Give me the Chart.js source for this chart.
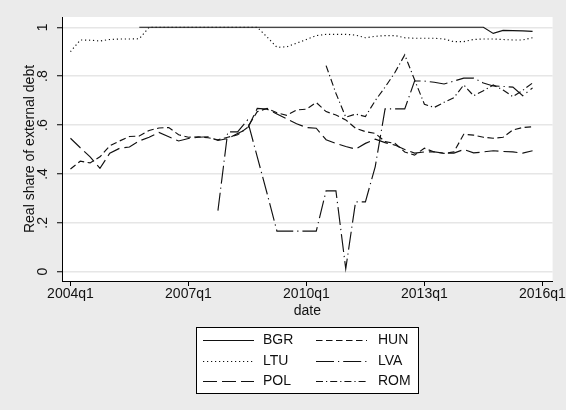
<!DOCTYPE html>
<html>
<head>
<meta charset="utf-8">
<script src="https://cdn.jsdelivr.net/npm/chart.js@4.4.1/dist/chart.umd.min.js"></script>
<style>
  html, body { margin: 0; padding: 0; background: #ebebeb; }
  canvas { display: block; }
</style>
</head>
<body>
<canvas id="chart" width="566" height="410"></canvas>
<script>
// Quarterly periods 2004q1 .. 2015q4 (index 0 .. 47)
const quarters = [];
for (let yr = 2004; yr <= 2015; yr++) for (let q = 1; q <= 4; q++) quarters.push(yr + 'q' + q);

const xTickPositions = [0, 12, 24, 36, 48];
const xTickLabels = ['2004q1', '2007q1', '2010q1', '2013q1', '2016q1'];
const yTickValues = [0, 0.2, 0.4, 0.6, 0.8, 1];
const yTickLabels = ['0', '.2', '.4', '.6', '.8', '1'];

const N = null;
// Real share of external debt by country
const BGR = [N, N, N, N, N, N, N, 1, 1, 1, 1, 1, 1, 1, 1, 1, 1, 1, 1, 1, 1, 1, 1, 1,
             1, 1, 1, 1, 1, 1, 1, 1, 1, 1, 1, 1, 1, 1, 1, 1, 1, 1, 1, .975, .987, .986, .985, .983];
const HUN = [.42, .452, .445, .47, .515, .535, .553, .555, .578, .588, .59, .56, .55, .552, .548, .54,
             .55, .56, .59, .655, .668, .65, .64, .662, .665, .692, .655, .641, .621, .587, .573, .566,
             .532, .525, .49, .477, .505, .49, .484, .49, .562, .559, .55, .546, .55, .58, .59, .593];
const LTU = [.90, .948, .947, .944, .95, .952, .952, .953, 1, 1, 1, 1, 1, 1, 1, 1,
             1, 1, 1, 1, .96, .918, .92, .935, .95, .966, .971, .971, .971, .968, .957, .963,
             .966, .966, .957, .955, .955, .955, .952, .941, .941, .95, .952, .952, .95, .948, .948, .957];
const LVA = [N, N, N, N, N, N, N, N, N, N, N, N, N, N, N, .25,
             .572, .572, .62, .47, .32, .166, .166, .166, .166, .166, .331, .331, .012, .286, .286, .43,
             .666, .666, .666, .78, .78, .775, .768, .78, .792, .792, .772, .76, .758, .755, .72, .752];
const POL = [.546, .507, .47, .423, .485, .505, .51, .535, .55, .57, .552, .535, .545, .55, .552, .537,
             .545, .565, .585, .668, .665, .645, .625, .605, .59, .587, .54, .525, .512, .502, .525, .542,
             .528, .518, .50, .485, .49, .49, .485, .485, .50, .486, .49, .495, .492, .49, .485, .495];
const ROM = [N, N, N, N, N, N, N, N, N, N, N, N, N, N, N, N,
             N, N, N, N, N, N, N, N, N, N, .843, .73, .632, .645, .635, .70,
             .755, .815, .887, .785, .685, .672, .693, .712, .764, .72, .74, .764, .743, .716, .742, .772];

const seriesNames = ['BGR', 'HUN', 'LTU', 'LVA', 'POL', 'ROM'];
const seriesValues = [BGR, HUN, LTU, LVA, POL, ROM];
const seriesDash = [[], [6.5, 3.5], [1.2, 2.8], [18, 4, 1.2, 4], [14, 5], [7, 3, 1.2, 3]];

const FONT = '"Liberation Sans", Arial, Helvetica, sans-serif';
const FONT_SIZE = 14;
const INK = '#111111';

// White plot region on the grey graph background
const plotBackground = {
  id: 'plotBackground',
  beforeDraw(chart) {
    const { ctx, chartArea: a } = chart;
    ctx.save();
    ctx.fillStyle = '#ebebeb';
    ctx.fillRect(0, 0, chart.width, chart.height);
    ctx.fillStyle = '#ffffff';
    ctx.fillRect(a.left, a.top, a.right - a.left, a.bottom - a.top);
    ctx.restore();
  }
};

// Vertical y tick labels, placed from the y scale
const verticalYLabels = {
  id: 'verticalYLabels',
  afterDraw(chart) {
    const s = chart.scales.y;
    const ctx = chart.ctx;
    ctx.save();
    ctx.fillStyle = INK;
    ctx.font = FONT_SIZE + 'px ' + FONT;
    ctx.textAlign = 'center';
    ctx.textBaseline = 'middle';
    yTickValues.forEach((v, k) => {
      ctx.save();
      ctx.translate(s.right - 18.5, s.getPixelForValue(v));
      ctx.rotate(-Math.PI / 2);
      ctx.fillText(yTickLabels[k], 0, 0);
      ctx.restore();
    });
    ctx.restore();
  }
};

// Boxed two-column legend below the plot
const boxedLegend = {
  id: 'boxedLegend',
  afterDraw(chart) {
    const ctx = chart.ctx;
    const box = { x: 196.5, y: 327.5, w: 222, h: 66 };
    ctx.save();
    ctx.fillStyle = '#ffffff';
    ctx.fillRect(box.x, box.y, box.w, box.h);
    ctx.strokeStyle = '#000000';
    ctx.lineWidth = 1;
    ctx.setLineDash([]);
    ctx.strokeRect(box.x, box.y, box.w, box.h);
    const colKey = [203, 316];
    const colText = [263, 378];
    const rowY = [340, 361, 381];
    ctx.font = FONT_SIZE + 'px ' + FONT;
    ctx.textBaseline = 'middle';
    ctx.textAlign = 'left';
    chart.data.datasets.forEach((ds, k) => {
      const col = k % 2, row = Math.floor(k / 2);
      const y = rowY[row] + 0.5;
      ctx.beginPath();
      ctx.setLineDash(ds.borderDash);
      ctx.strokeStyle = INK;
      ctx.lineWidth = ds.borderWidth;
      ctx.moveTo(colKey[col], y);
      ctx.lineTo(colKey[col] + 51, y);
      ctx.stroke();
      ctx.setLineDash([]);
      ctx.fillStyle = INK;
      ctx.fillText(ds.label, colText[col], rowY[row]);
    });
    ctx.restore();
  }
};

new Chart(document.getElementById('chart'), {
  type: 'line',
  data: {
    datasets: seriesNames.map((name, k) => ({
      label: name,
      data: seriesValues[k].map((v, i) => ({ x: i, y: v })),
      borderColor: INK,
      borderWidth: 1.15,
      borderDash: seriesDash[k],
      pointRadius: 0,
      tension: 0,
      fill: false,
      spanGaps: false
    }))
  },
  options: {
    responsive: false,
    animation: false,
    events: [],
    layout: { padding: { left: 0, top: 17, right: 12, bottom: 89 } },
    plugins: { legend: { display: false }, tooltip: { enabled: false } },
    scales: {
      x: {
        type: 'linear',
        min: -0.86,
        max: 49.04,
        afterBuildTicks: s => { s.ticks = xTickPositions.map(v => ({ value: v })); },
        afterFit: s => { s.height = 40; },
        ticks: {
          autoSkip: false,
          maxRotation: 0,
          padding: 0,
          color: INK,
          font: { family: FONT, size: FONT_SIZE },
          callback: v => xTickLabels[xTickPositions.indexOf(v)]
        },
        grid: { drawOnChartArea: false, tickLength: 5, tickColor: '#000', tickWidth: 1 },
        border: { color: '#000', width: 1 },
        title: {
          display: true, text: 'date', color: INK,
          font: { family: FONT, size: FONT_SIZE },
          padding: { top: 0, bottom: 1 }
        }
      },
      y: {
        min: -0.038,
        max: 1.042,
        afterBuildTicks: s => { s.ticks = yTickValues.map(v => ({ value: v })); },
        afterFit: s => { s.width = 62; },
        ticks: { color: 'rgba(0,0,0,0)', font: { family: FONT, size: FONT_SIZE } },
        grid: { color: '#e6e6e6', lineWidth: 1.5, tickLength: 5, tickColor: '#000', tickWidth: 1 },
        border: { color: '#000', width: 1 },
        title: {
          display: true, text: 'Real share of external debt', color: INK,
          font: { family: FONT, size: FONT_SIZE },
          padding: { top: 22, bottom: 0 }
        }
      }
    }
  },
  plugins: [plotBackground, verticalYLabels, boxedLegend]
});
</script>
</body>
</html>
